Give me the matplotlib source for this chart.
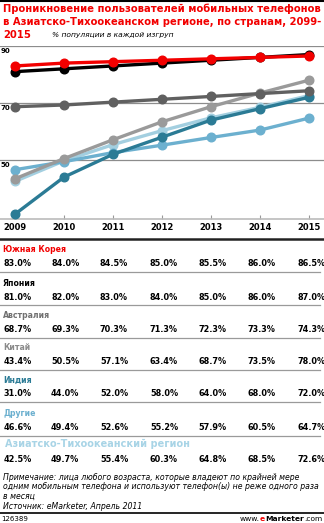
import matplotlib
matplotlib.use("Agg")
import matplotlib.pyplot as plt
from matplotlib.lines import Line2D

plt.rcParams['font.family'] = ['DejaVu Sans']

W, H = 324, 523

years = [2009, 2010, 2011, 2012, 2013, 2014, 2015]
names = ["Южная Корея", "Япония", "Австралия", "Китай", "Индия", "Другие",
         "Азиатско-Тихоокеанский регион"]
korea = [83.0, 84.0, 84.5, 85.0, 85.5, 86.0, 86.5]
japan = [81.0, 82.0, 83.0, 84.0, 85.0, 86.0, 87.0]
australia = [68.7, 69.3, 70.3, 71.3, 72.3, 73.3, 74.3]
china = [43.4, 50.5, 57.1, 63.4, 68.7, 73.5, 78.0]
india = [31.0, 44.0, 52.0, 58.0, 64.0, 68.0, 72.0]
others = [46.6, 49.4, 52.6, 55.2, 57.9, 60.5, 64.7]
apac = [42.5, 49.7, 55.4, 60.3, 64.8, 68.5, 72.6]
series = [korea, japan, australia, china, india, others, apac]

line_colors = ["#f20000", "#000000", "#606060", "#9a9a9a", "#2b7b95", "#6cb0cf", "#a3cfe0"]
label_colors = ["#f20000", "#000000", "#707070", "#8a8a8a", "#2b7b95", "#6cb0cf", "#a8d4e6"]
yticks = [50, 70, 90]


def fx(px):
    return px / W


def fy(py):
    return 1 - py / H


fig = plt.figure(figsize=(W / 100, H / 100), dpi=100)
renderer = fig.canvas.get_renderer()


def fit_lines(texts, width, size, **kw):
    # shrink the font until the widest line fits in the given pixel width
    widest = max(t.get_window_extent(renderer).width for t in texts)
    if widest > width:
        for t in texts:
            t.set_fontsize(size * width / widest)


# title block
fig.add_artist(Line2D([0, 1], [fy(1), fy(1)], color="black", lw=1.5))
title = ["Проникновение пользователей мобильных телефонов",
         "в Азиатско-Тихоокеанском регионе, по странам, 2099-",
         "2015"]
tt = [fig.text(fx(3), fy(9 + 13 * i), t, color="#f20000", fontsize=7.4,
               fontweight="bold", va="center", ha="left")
      for i, t in enumerate(title)]
fit_lines(tt, 318, 7.4)
fig.text(fx(52), fy(35), "% популяции в каждой изгруп", fontsize=5.4,
         style="italic", va="center", ha="left")

# line chart
ax = fig.add_axes([0, fy(219), 1, (219 - 46) / H])
ax.set_xlim(2009 - 15 / 49, 2015 + 15 / 49)
ax.set_ylim(90 - 173 / 2.85, 90)
draw_order = [6, 5, 3, 4, 2, 1, 0]
for k in draw_order:
    ax.plot(years, series[k], color=line_colors[k], lw=2.4, marker="o",
            markersize=6.2, solid_capstyle="round", zorder=3)
for v in yticks:
    ax.axhline(v, color="#8c8c8c", lw=0.9, zorder=1)
    ax.text(0.002, v - 0.8, str(v), transform=ax.get_yaxis_transform(),
            fontsize=5.0, fontweight="bold", va="top", ha="left")
ax.set_yticks([])
ax.set_xticks(years)
ax.set_xticklabels([str(y) for y in years], fontsize=6.0, fontweight="bold")
ax.tick_params(axis="x", direction="in", length=3, color="#999999", pad=3)
for s in ["top", "left", "right"]:
    ax.spines[s].set_visible(False)
ax.spines["bottom"].set_color("#bbbbbb")
ax.spines["bottom"].set_linewidth(1.2)

fig.add_artist(Line2D([0, 1], [fy(238.5), fy(238.5)], color="#222222", lw=1.8))

# data table
val_x = [4, 51, 100, 150, 198, 248, 297]
row_tops = [250, 283, 316, 348, 380, 414, 444]
for i, (name, vals) in enumerate(zip(names, series)):
    y0 = row_tops[i]
    big = i == 6
    fig.text(fx(3 if not big else 5), fy(y0), name, color=label_colors[i],
             fontsize=7.0 if big else 5.6, fontweight="bold", va="center", ha="left")
    vy = y0 + (16 if big else 14)
    for x, v in zip(val_x, vals):
        fig.text(fx(x), fy(vy), f"{v:.1f}%", fontsize=5.9, fontweight="bold",
                 va="center", ha="left")
    if i < 6:
        sep = y0 + 22
        fig.add_artist(Line2D([0, fx(320)], [fy(sep), fy(sep)], color="#9a9a9a", lw=0.9))

# notes
notes = ["Примечание: лица любого возраста, которые владеют по крайней мере",
         "одним мобильным телефона и используют телефон(ы) не реже одного раза",
         "в месяц",
         "Источник: eMarketer, Апрель 2011"]
for i, t in enumerate(notes):
    fig.text(fx(3), fy(477 + 9.7 * i), t, fontsize=5.6, style="italic",
             va="center", ha="left")

fig.add_artist(Line2D([0, 1], [fy(513), fy(513)], color="black", lw=1.2))
fig.text(fx(1), fy(519), "126389", fontsize=5.0, va="center", ha="left")

# footer logo, pieces laid out right to left
parts = [(".com", "black", "normal"), ("Marketer", "black", "bold"),
         ("e", "#f20000", "bold"), ("www.", "black", "normal")]
right = 322
for txt, col, wt in parts:
    t = fig.text(fx(right), fy(519), txt, fontsize=5.4, color=col,
                 fontweight=wt, va="center", ha="right")
    right -= t.get_window_extent(renderer).width

fig.savefig("out.png", dpi=100)
